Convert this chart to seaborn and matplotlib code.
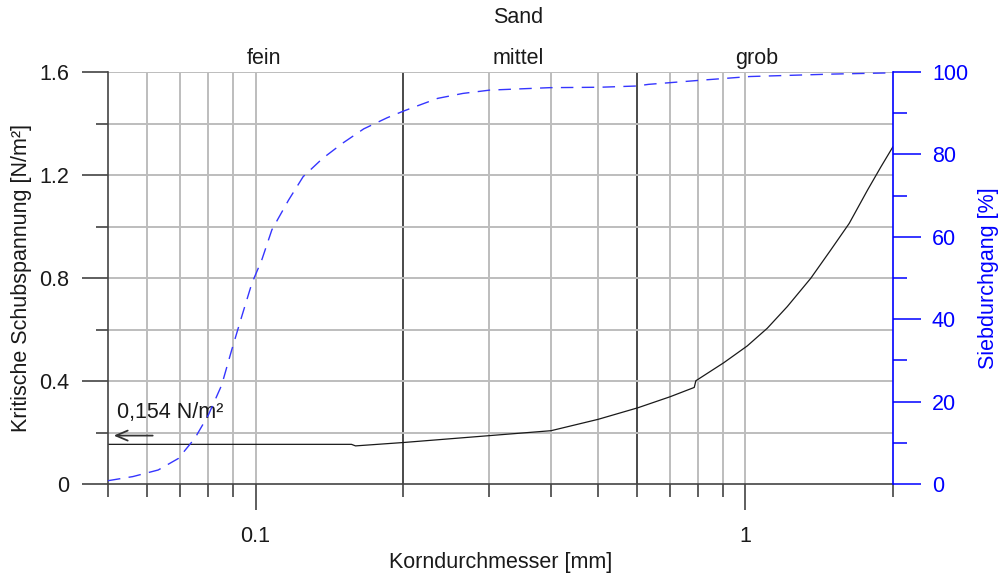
import numpy as np
import pandas as pd
import matplotlib
matplotlib.use("Agg")
import matplotlib.pyplot as plt
from matplotlib.ticker import FixedLocator, NullFormatter, FixedFormatter
import seaborn as sns

# ---- data ----
korn_tau = [0.05, 0.157, 0.160, 0.2, 0.401, 0.5, 0.603, 0.702, 0.786, 0.792, 0.903,
            1.008, 1.108, 1.217, 1.359, 1.493, 1.628, 1.775, 1.89, 2.0]
tau_krit = [0.154, 0.154, 0.148, 0.161, 0.207, 0.251, 0.296, 0.339, 0.375, 0.401, 0.471,
            0.536, 0.605, 0.689, 0.799, 0.909, 1.012, 1.142, 1.232, 1.310]

korn_sieb = [0.05, 0.0562, 0.0633, 0.0696, 0.0752, 0.0801, 0.0853, 0.0894, 0.0937, 0.0983,
             0.103, 0.108, 0.1168, 0.1251, 0.137, 0.1505, 0.1663, 0.1857, 0.1994, 0.2087,
             0.2354, 0.265, 0.3005, 0.346, 0.3987, 0.5045, 0.5998, 0.634, 0.81, 1.02,
             1.51, 2.0]
siebdurchgang = [0.8, 1.8, 3.4, 6.2, 11.1, 16.7, 24.0, 32.5, 40.6, 48.7,
                 54.4, 61.7, 68.9, 74.6, 79.0, 82.7, 86.2, 88.9, 90.4, 91.3,
                 93.6, 94.8, 95.6, 95.9, 96.2, 96.3, 96.6, 97.0, 98.0, 98.9,
                 99.5, 99.8]

x_major = [0.1, 1]
x_major_labels = ["0.1", "1"]
x_minor = [0.05, 0.06, 0.07, 0.08, 0.09, 0.2, 0.3, 0.4, 0.5, 0.6, 0.7, 0.8, 0.9, 2]
x_bounds = [0.2, 0.6]
y_major = [0, 0.4, 0.8, 1.2, 1.6]
y_major_labels = ["0", "0.4", "0.8", "1.2", "1.6"]
y_minor = [0.2, 0.6, 1.0, 1.4]
y2_major = [0, 20, 40, 60, 80, 100]
y2_minor = [10, 30, 50, 70, 90]

fractions = ["fein", "mittel", "grob"]
fraction_pos = [0.1043, 0.344, 1.053]

annot_text = "0,154 N/m²"

# ---- style ----
sns.set_theme(style="white")
plt.rcParams["font.family"] = ["Liberation Sans", "DejaVu Sans"]
FS = 15.5

fig = plt.figure(figsize=(10.01, 5.74), dpi=100)
ax = fig.add_axes([108/1001, 1-484/574, 785/1001, 412/574])
ax.set_xscale("log")
ax.set_xlim(0.05, 2)
ax.set_ylim(0, 1.6)

grid_light = "#bdbdbd"
grid_dark = "#4a4a4a"

# grid lines
for v in x_minor + x_major:
    if v in x_bounds:
        ax.axvline(v, color=grid_dark, lw=1.4, zorder=1)
    elif 0.05 < v < 2:
        ax.axvline(v, color=grid_light, lw=1.4, zorder=1)
for h in y_minor + y_major[1:]:
    ax.axhline(h, color=grid_light, lw=1.4, zorder=1)

df_tau = pd.DataFrame({"d": korn_tau, "tau": tau_krit})
sns.lineplot(data=df_tau, x="d", y="tau", ax=ax, color="#1a1a1a", lw=0.9,
             sort=False, zorder=3)

ax.xaxis.set_major_locator(FixedLocator(x_major))
ax.xaxis.set_major_formatter(FixedFormatter(x_major_labels))
ax.xaxis.set_minor_locator(FixedLocator(x_minor))
ax.xaxis.set_minor_formatter(NullFormatter())
ax.yaxis.set_major_locator(FixedLocator(y_major))
ax.yaxis.set_major_formatter(FixedFormatter(y_major_labels))
ax.yaxis.set_minor_locator(FixedLocator(y_minor))

ax.tick_params(axis="both", which="major", direction="out", length=19, width=1.1,
               color="#333333", labelsize=FS, labelcolor="#1a1a1a")
ax.tick_params(axis="both", which="minor", direction="out", length=9, width=1.1,
               color="#333333")
ax.tick_params(axis="x", which="major", pad=11)
ax.tick_params(axis="y", which="major", pad=9)
ax.tick_params(bottom=True, left=True, which="both")

for s in ["top", "right"]:
    ax.spines[s].set_visible(False)
for s in ["left", "bottom"]:
    ax.spines[s].set_color("#444444")
    ax.spines[s].set_linewidth(1.2)
    ax.spines[s].set_zorder(4)

ax.set_xlabel("Korndurchmesser [mm]", fontsize=FS, color="#1a1a1a")
ax.set_ylabel("Kritische Schubspannung [N/m²]", fontsize=FS, color="#1a1a1a")
ax.xaxis.set_label_coords(0.5, (484-552)/412)
ax.yaxis.set_label_coords((32-108)/785, 0.5)

# annotation
ax.annotate("", xy=(0.0507, 0.188), xytext=(0.0625, 0.188),
            arrowprops=dict(arrowstyle="->,head_length=0.7,head_width=0.3",
                            color="#333333", lw=1.3), zorder=5)
ax.text(0.0522, 0.276, annot_text, fontsize=FS, color="#1a1a1a",
        ha="left", va="center", zorder=5)

# top labels
for name, pos in zip(fractions, fraction_pos):
    ax.text(pos, 1.654, name, fontsize=FS, color="#1a1a1a", ha="center",
            va="center", clip_on=False)
ax.text(fraction_pos[1], 1.810, "Sand", fontsize=FS, color="#1a1a1a",
        ha="center", va="center", clip_on=False)

# right axis
ax2 = ax.twinx()
ax2.set_ylim(0, 100)
df_sieb = pd.DataFrame({"d": korn_sieb, "p": siebdurchgang})
sns.lineplot(data=df_sieb, x="d", y="p", ax=ax2, color="#3535ff", lw=1.0,
             sort=False, zorder=3)
ax2.lines[-1].set_dashes((9, 6))
ax2.set_xlim(0.05, 2)
ax2.yaxis.set_major_locator(FixedLocator(y2_major))
ax2.yaxis.set_minor_locator(FixedLocator(y2_minor))
ax2.tick_params(axis="y", which="major", direction="out", length=20, width=1.1,
                color="#0000ff", labelsize=FS, labelcolor="#0000ff", pad=8)
ax2.tick_params(axis="y", which="minor", direction="out", length=10, width=1.1,
                color="#0000ff")
ax2.tick_params(right=True, which="both")
for s in ["top", "left", "bottom"]:
    ax2.spines[s].set_visible(False)
ax2.spines["right"].set_color("#0000ff")
ax2.spines["right"].set_linewidth(1.2)
ax2.set_ylabel("Siebdurchgang [%]", fontsize=FS, color="#0000ff")
ax2.yaxis.set_label_coords((978-108)/785, 0.5)
ax2.grid(False)
ax.grid(False)

fig.savefig("out.png", dpi=100)
